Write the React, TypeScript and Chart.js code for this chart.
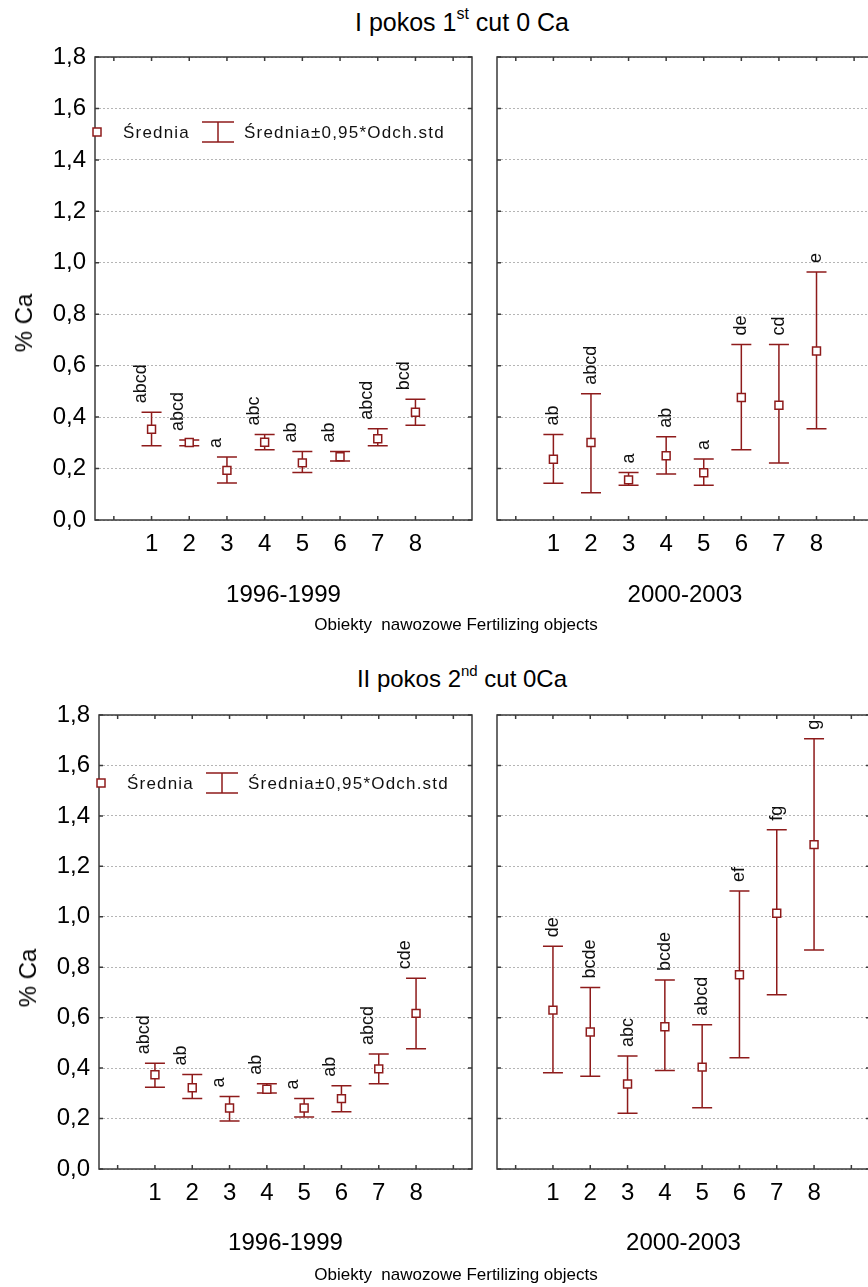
import React, { useEffect, useRef } from 'react';
import { Chart, registerables } from 'chart.js';

Chart.register(...registerables);

// ---------- data ----------
const CATEGORIES = ['1', '2', '3', '4', '5', '6', '7', '8'];
const Y_MIN = 0;
const Y_MAX = 1.8;
const Y_STEP = 0.2;

// I pokos, 1996-1999
const CUT1_A_MEAN = [0.353, 0.301, 0.193, 0.302, 0.222, 0.246, 0.316, 0.419];
const CUT1_A_LOW = [0.289, 0.289, 0.144, 0.273, 0.185, 0.229, 0.289, 0.368];
const CUT1_A_HIGH = [0.419, 0.311, 0.245, 0.332, 0.266, 0.266, 0.355, 0.469];
const CUT1_A_LETTERS = ['abcd', 'abcd', 'a', 'abc', 'ab', 'ab', 'abcd', 'bcd'];
// I pokos, 2000-2003
const CUT1_B_MEAN = [0.236, 0.301, 0.156, 0.25, 0.184, 0.476, 0.446, 0.657];
const CUT1_B_LOW = [0.143, 0.106, 0.135, 0.179, 0.135, 0.273, 0.222, 0.355];
const CUT1_B_HIGH = [0.332, 0.491, 0.185, 0.324, 0.237, 0.682, 0.682, 0.964];
const CUT1_B_LETTERS = ['ab', 'abcd', 'a', 'ab', 'a', 'de', 'cd', 'e'];
// II pokos, 1996-1999
const CUT2_A_MEAN = [0.374, 0.322, 0.242, 0.316, 0.242, 0.279, 0.397, 0.617];
const CUT2_A_LOW = [0.324, 0.28, 0.19, 0.301, 0.206, 0.227, 0.338, 0.477];
const CUT2_A_HIGH = [0.419, 0.375, 0.287, 0.338, 0.28, 0.33, 0.456, 0.756];
const CUT2_A_LETTERS = ['abcd', 'ab', 'a', 'ab', 'a', 'ab', 'abcd', 'cde'];
// II pokos, 2000-2003
const CUT2_B_MEAN = [0.63, 0.543, 0.337, 0.564, 0.404, 0.77, 1.014, 1.286];
const CUT2_B_LOW = [0.382, 0.368, 0.221, 0.391, 0.243, 0.441, 0.691, 0.868];
const CUT2_B_HIGH = [0.883, 0.72, 0.448, 0.749, 0.572, 1.102, 1.345, 1.706];
const CUT2_B_LETTERS = ['de', 'bcde', 'abc', 'bcde', 'abcd', 'ef', 'fg', 'g'];

const PERIODS = ['1996-1999', '2000-2003'];
const LEGEND_MEAN = 'Średnia';
const LEGEND_ERR = 'Średnia±0,95*Odch.std';
const Y_TITLE = '% Ca';
const X_TITLE = 'Obiekty  nawozowe Fertilizing objects';

// ---------- style ----------
const FONT = '"Liberation Sans", Arial, Helvetica, sans-serif';
const RED = '#8e1b1b';
const FRAME = '#3a3a3a';

type PanelProps = {
  left: number;
  top: number;
  w: number;
  h: number;
  padTop: number;
  padRight: number;
  yWidth: number;
  xHeight: number;
  titlePadBottom: number;
  showY: boolean;
  legendDy: number | null;
  period: string;
  mean: number[];
  low: number[];
  high: number[];
  letters: string[];
  labelDx: number;
};

function Panel(p: PanelProps) {
  const ref = useRef<HTMLCanvasElement>(null);
  useEffect(() => {
    const canvas = ref.current;
    if (!canvas) return;

    const errorBars = {
      id: 'errorBars',
      beforeDatasetsDraw(chart: any) {
        const { ctx, scales } = chart;
        const x = scales.x;
        const y = scales.y;
        ctx.save();
        ctx.strokeStyle = RED;
        ctx.lineWidth = 1.5;
        p.low.forEach((lo, i) => {
          const px = x.getPixelForValue(i + 1);
          const yl = y.getPixelForValue(lo);
          const yh = y.getPixelForValue(p.high[i]);
          ctx.beginPath();
          ctx.moveTo(px, yl);
          ctx.lineTo(px, yh);
          ctx.moveTo(px - 10, yl);
          ctx.lineTo(px + 10, yl);
          ctx.moveTo(px - 10, yh);
          ctx.lineTo(px + 10, yh);
          ctx.stroke();
        });
        ctx.restore();
      },
      afterDatasetsDraw(chart: any) {
        const { ctx, scales, chartArea } = chart;
        const x = scales.x;
        const y = scales.y;
        // letters
        ctx.save();
        ctx.font = `18px ${FONT}`;
        ctx.fillStyle = '#111';
        p.letters.forEach((t, i) => {
          const px = x.getPixelForValue(i + 1) + p.labelDx;
          const py = y.getPixelForValue(p.high[i]) - 9;
          ctx.save();
          ctx.translate(px, py);
          ctx.rotate(-Math.PI / 2);
          ctx.textAlign = 'left';
          ctx.textBaseline = 'middle';
          ctx.fillText(t, 0, 0);
          ctx.restore();
        });
        ctx.restore();

        // frame + inward ticks
        const { left, right, top, bottom } = chartArea;
        ctx.save();
        ctx.strokeStyle = FRAME;
        ctx.lineWidth = 1.5;
        ctx.strokeRect(left, top, right - left, bottom - top);
        ctx.beginPath();
        for (let i = 0; i <= CATEGORIES.length + 1; i++) {
          const px = x.getPixelForValue(i);
          ctx.moveTo(px, bottom);
          ctx.lineTo(px, bottom - 4);
          ctx.moveTo(px, top);
          ctx.lineTo(px, top + 4);
        }
        y.ticks.forEach((tk: any) => {
          const py = y.getPixelForValue(tk.value);
          ctx.moveTo(left, py);
          ctx.lineTo(left + 4, py);
          ctx.moveTo(right, py);
          ctx.lineTo(right - 4, py);
        });
        ctx.stroke();
        ctx.restore();

        // legend
        if (p.legendDy !== null) {
          const lx = left + 2;
          const ly = top + p.legendDy;
          ctx.save();
          ctx.fillStyle = '#fff';
          ctx.strokeStyle = RED;
          ctx.lineWidth = 1.5;
          ctx.fillRect(lx - 4, ly - 4, 8, 8);
          ctx.strokeRect(lx - 4, ly - 4, 8, 8);
          ctx.beginPath();
          ctx.moveTo(left + 107, ly - 10);
          ctx.lineTo(left + 139, ly - 10);
          ctx.moveTo(left + 107, ly + 10);
          ctx.lineTo(left + 139, ly + 10);
          ctx.moveTo(left + 123, ly - 10);
          ctx.lineTo(left + 123, ly + 10);
          ctx.stroke();
          ctx.fillStyle = '#111';
          ctx.font = `17px ${FONT}`;
          (ctx as any).letterSpacing = '1.2px';
          ctx.textAlign = 'left';
          ctx.textBaseline = 'middle';
          ctx.fillText(LEGEND_MEAN, left + 28, ly + 1);
          ctx.fillText(LEGEND_ERR, left + 149, ly + 1);
          ctx.restore();
        }
      },
    };

    const chart = new Chart(canvas, {
      type: 'line',
      data: {
        labels: ['', ...CATEGORIES, ''],
        datasets: [
          {
            data: [null, ...p.mean, null],
            showLine: false,
            pointStyle: 'rect',
            pointRadius: 5.6,
            pointBackgroundColor: '#fff',
            pointBorderColor: RED,
            pointBorderWidth: 1.5,
          } as any,
        ],
      },
      options: {
        animation: false,
        responsive: false,
        maintainAspectRatio: false,
        layout: { padding: { top: p.padTop, right: p.padRight, left: 0, bottom: 0 } },
        plugins: { legend: { display: false }, tooltip: { enabled: false } },
        scales: {
          x: {
            type: 'category',
            offset: true,
            grid: { display: false, drawTicks: false },
            border: { display: false },
            ticks: {
              autoSkip: false,
              maxRotation: 0,
              padding: 10,
              color: '#000',
              font: { family: FONT, size: 24 },
            },
            title: {
              display: true,
              text: p.period,
              color: '#000',
              font: { family: FONT, size: 24 },
              padding: { top: 0, bottom: p.titlePadBottom },
            },
            afterFit: (s: any) => {
              s.height = p.xHeight;
            },
          },
          y: {
            min: Y_MIN,
            max: Y_MAX,
            grid: { color: '#b5b5b5', lineWidth: 1, drawTicks: false, tickLength: 0 },
            border: { display: false, dash: [2, 2] },
            ticks: {
              display: p.showY,
              stepSize: Y_STEP,
              padding: 9,
              color: '#000',
              font: { family: FONT, size: 24 },
              callback: (v: any) => Number(v).toFixed(1).replace('.', ','),
            },
            afterFit: (s: any) => {
              s.width = p.yWidth;
            },
          },
        },
      } as any,
      plugins: [errorBars],
    });
    return () => chart.destroy();
  }, []);
  return (
    <canvas
      ref={ref}
      width={p.w}
      height={p.h}
      style={{ position: 'absolute', left: p.left, top: p.top }}
    />
  );
}

const textBase: React.CSSProperties = {
  position: 'absolute',
  fontFamily: FONT,
  color: '#000',
  lineHeight: 1,
  whiteSpace: 'nowrap',
};

function YTitle({ cx, cy }: { cx: number; cy: number }) {
  return (
    <div
      style={{
        ...textBase,
        left: cx,
        top: cy,
        fontSize: 24,
        transform: 'translate(-50%, -50%) rotate(-90deg)',
      }}
    >
      {Y_TITLE}
    </div>
  );
}

function XTitle({ top }: { top: number }) {
  return (
    <div
      style={{
        ...textBase,
        whiteSpace: 'pre',
        left: 256,
        width: 400,
        top,
        fontSize: 17,
        textAlign: 'center',
      }}
    >
      {X_TITLE}
    </div>
  );
}

export default function App() {
  return (
    <div
      style={{
        position: 'absolute',
        left: 0,
        top: 0,
        width: 868,
        height: 1287,
        overflow: 'hidden',
        background: '#fff',
      }}
    >
      {/* top chart */}
      <div style={{ ...textBase, left: 262, width: 400, top: 10, fontSize: 25, textAlign: 'center' }}>
        I pokos 1
        <span style={{ fontSize: 16, position: 'relative', top: -12 }}>st</span> cut 0 Ca
      </div>
      <Panel
        left={0}
        top={0}
        w={480}
        h={620}
        padTop={57}
        padRight={8}
        yWidth={95}
        xHeight={100}
        titlePadBottom={10}
        showY={true}
        legendDy={75}
        period={PERIODS[0]}
        mean={CUT1_A_MEAN}
        low={CUT1_A_LOW}
        high={CUT1_A_HIGH}
        letters={CUT1_A_LETTERS}
        labelDx={-11}
      />
      <Panel
        left={480}
        top={0}
        w={400}
        h={620}
        padTop={57}
        padRight={6}
        yWidth={17}
        xHeight={100}
        titlePadBottom={10}
        showY={false}
        legendDy={null}
        period={PERIODS[1]}
        mean={CUT1_B_MEAN}
        low={CUT1_B_LOW}
        high={CUT1_B_HIGH}
        letters={CUT1_B_LETTERS}
        labelDx={0}
      />
      <YTitle cx={24} cy={323} />
      <XTitle top={616} />

      {/* bottom chart */}
      <div style={{ ...textBase, left: 262, width: 400, top: 667, fontSize: 24, textAlign: 'center' }}>
        II pokos 2
        <span style={{ fontSize: 15, position: 'relative', top: -11 }}>nd</span> cut 0Ca
      </div>
      <Panel
        left={0}
        top={650}
        w={480}
        h={630}
        padTop={65}
        padRight={8}
        yWidth={99}
        xHeight={111}
        titlePadBottom={22}
        showY={true}
        legendDy={68}
        period={PERIODS[0]}
        mean={CUT2_A_MEAN}
        low={CUT2_A_LOW}
        high={CUT2_A_HIGH}
        letters={CUT2_A_LETTERS}
        labelDx={-11}
      />
      <Panel
        left={480}
        top={650}
        w={400}
        h={630}
        padTop={65}
        padRight={10}
        yWidth={17}
        xHeight={111}
        titlePadBottom={22}
        showY={false}
        legendDy={null}
        period={PERIODS[1]}
        mean={CUT2_B_MEAN}
        low={CUT2_B_LOW}
        high={CUT2_B_HIGH}
        letters={CUT2_B_LETTERS}
        labelDx={0}
      />
      <YTitle cx={28} cy={978} />
      <XTitle top={1266} />
    </div>
  );
}
